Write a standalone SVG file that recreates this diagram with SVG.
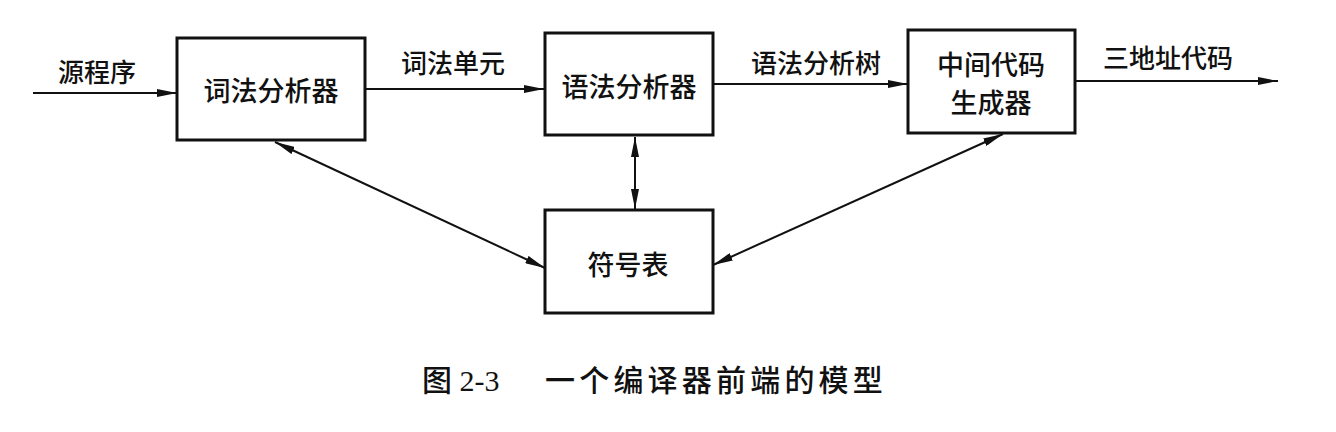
<svg xmlns="http://www.w3.org/2000/svg" width="1336" height="432" viewBox="0 0 1336 432">
<style>
.box{fill:none;stroke:#111;stroke-width:3}
.ln{fill:none;stroke:#111;stroke-width:2}
.t{font-family:"Noto Sans CJK SC","Noto Sans CJK TC",sans-serif;font-size:27px;font-weight:500;fill:#111;text-anchor:middle}
.lbl{font-family:"Noto Sans CJK SC","Noto Sans CJK TC",sans-serif;font-size:26px;font-weight:500;fill:#111;text-anchor:middle}
.cap{font-family:"Liberation Serif","Noto Sans CJK SC",serif;font-size:30px;font-weight:500;fill:#111}
</style>
<defs>
<marker id="ah" markerUnits="userSpaceOnUse" markerWidth="20" markerHeight="8" refX="20" refY="4" orient="auto-start-reverse">
<path d="M0,0 L20,4 L0,8 z" fill="#111"/>
</marker>
</defs>
<rect x="0" y="0" width="1336" height="432" fill="#fff"/>
<g id="connectors">
<line class="ln" x1="33" y1="93" x2="177" y2="93" marker-end="url(#ah)"/>
<line class="ln" x1="365" y1="89" x2="544" y2="89" marker-end="url(#ah)"/>
<line class="ln" x1="713" y1="84" x2="908" y2="84" marker-end="url(#ah)"/>
<line class="ln" x1="1075" y1="81" x2="1278" y2="81" marker-end="url(#ah)"/>
<line class="ln" x1="635" y1="137" x2="635" y2="209" marker-start="url(#ah)" marker-end="url(#ah)"/>
<line class="ln" x1="275" y1="142" x2="545" y2="268" marker-start="url(#ah)" marker-end="url(#ah)"/>
<line class="ln" x1="1003" y1="134" x2="713" y2="265" marker-start="url(#ah)" marker-end="url(#ah)"/>
<text class="lbl" x="97" y="82">源程序</text>
<text class="lbl" x="453" y="73">词法单元</text>
<text class="lbl" x="816" y="73">语法分析树</text>
<text class="lbl" x="1168" y="68">三地址代码</text>
</g>
<g id="lexer">
<rect class="box" x="177" y="38" width="188" height="102"/>
<text class="t" x="271" y="101">词法分析器</text>
</g>
<g id="parser">
<rect class="box" x="545" y="33" width="168" height="102"/>
<text class="t" x="629" y="97">语法分析器</text>
</g>
<g id="codegen">
<rect class="box" x="908" y="30" width="167" height="103"/>
<text class="t" x="991" y="75">中间代码</text>
<text class="t" x="991" y="113">生成器</text>
</g>
<g id="symtab">
<rect class="box" x="545" y="210" width="168" height="103"/>
<text class="t" x="628" y="275">符号表</text>
</g>
<g id="caption">
<text class="cap" x="422" y="391">图 2-3</text>
<text class="cap" x="545" y="391" letter-spacing="4.2">一个编译器前端的模型</text>
</g>
</svg>
